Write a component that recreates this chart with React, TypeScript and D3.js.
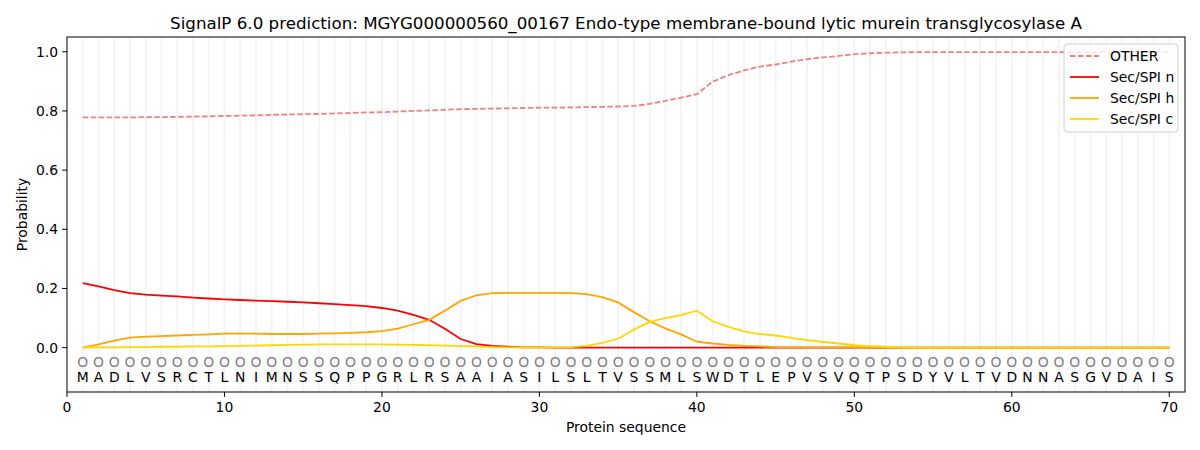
import React, { useEffect, useRef } from 'react';
import * as d3 from 'd3';

const title = 'SignalP 6.0 prediction: MGYG000000560_00167 Endo-type membrane-bound lytic murein transglycosylase A';

const sequence = 'MADLVSRCTLNIMNSSQPPGRLRSAAIASILSLTVSSMLSWDTLEPVSVQTPSDYVLTVDNNASGVDAIS'.split('');

const otherProb = [
  0.778, 0.778, 0.778, 0.778, 0.779, 0.779, 0.780, 0.781, 0.782, 0.783,
  0.784, 0.785, 0.787, 0.788, 0.789, 0.790, 0.792, 0.793, 0.795, 0.796,
  0.798, 0.800, 0.802, 0.804, 0.806, 0.807, 0.808, 0.809, 0.810, 0.811,
  0.811, 0.812, 0.813, 0.814, 0.815, 0.817, 0.824, 0.834, 0.845, 0.857,
  0.899, 0.921, 0.937, 0.950, 0.957, 0.967, 0.975, 0.981, 0.986, 0.992,
  0.995, 0.997, 0.998, 0.999, 0.999, 0.999, 0.999, 0.999, 0.999, 0.999,
  0.999, 0.999, 0.999, 0.999, 0.999, 0.999, 0.999, 0.999, 0.999, 0.999,
];

const secN = [
  0.218, 0.207, 0.194, 0.184, 0.179, 0.176, 0.173, 0.169, 0.166, 0.163,
  0.161, 0.159, 0.157, 0.155, 0.153, 0.150, 0.147, 0.144, 0.140, 0.134,
  0.125, 0.111, 0.094, 0.064, 0.029, 0.012, 0.006, 0.003, 0.001, 0.001,
  0, 0, 0, 0, 0, 0, 0, 0, 0, 0,
  0, 0, 0, 0, 0, 0, 0, 0, 0, 0,
  0, 0, 0, 0, 0, 0, 0, 0, 0, 0,
  0, 0, 0, 0, 0, 0, 0, 0, 0, 0,
];

const secH = [
  0.000, 0.011, 0.024, 0.034, 0.037, 0.039, 0.041, 0.043, 0.045, 0.047,
  0.047, 0.047, 0.046, 0.046, 0.046, 0.047, 0.048, 0.050, 0.052, 0.056,
  0.064, 0.079, 0.094, 0.125, 0.158, 0.177, 0.184, 0.185, 0.185, 0.185,
  0.185, 0.184, 0.181, 0.171, 0.153, 0.120, 0.089, 0.065, 0.045, 0.020,
  0.014, 0.009, 0.006, 0.004, 0.002, 0.001, 0.001, 0.001, 0.001, 0.001,
  0, 0, 0, 0, 0, 0, 0, 0, 0, 0,
  0, 0, 0, 0, 0, 0, 0, 0, 0, 0,
];

const secC = [
  0.000, 0.001, 0.001, 0.002, 0.002, 0.003, 0.003, 0.004, 0.004, 0.005,
  0.006, 0.007, 0.008, 0.009, 0.010, 0.011, 0.011, 0.011, 0.011, 0.011,
  0.010, 0.009, 0.008, 0.007, 0.005, 0.004, 0.002, 0.001, 0.001, 0.001,
  0.001, 0.002, 0.006, 0.016, 0.030, 0.061, 0.087, 0.100, 0.110, 0.125,
  0.089, 0.070, 0.055, 0.046, 0.041, 0.033, 0.025, 0.019, 0.014, 0.008,
  0.005, 0.003, 0.001, 0, 0, 0, 0, 0, 0, 0,
  0, 0, 0, 0, 0, 0, 0, 0, 0, 0,
];

const xTicks = [0, 10, 20, 30, 40, 50, 60, 70];
const yTicks = [0, 0.2, 0.4, 0.6, 0.8, 1.0];

const series = [
  { name: 'OTHER', values: otherProb, color: '#f08080', dash: '5.55,2.4' },
  { name: 'Sec/SPI n', values: secN, color: '#ff0000', dash: null },
  { name: 'Sec/SPI h', values: secH, color: '#ffa500', dash: null },
  { name: 'Sec/SPI c', values: secC, color: '#ffd700', dash: null },
];

const FONT = '"DejaVu Sans", sans-serif';

const SignalPChart: React.FC = () => {
  const svgRef = useRef<SVGSVGElement>(null);

  useEffect(() => {
    if (!svgRef.current) return;
    const svg = d3.select(svgRef.current);
    svg.selectAll('*').remove();

    const left = 67, right = 1185, top = 37, bottom = 392;

    const x = d3.scaleLinear().domain([0, 71]).range([left, right]);
    const y = d3.scaleLinear().domain([-0.15, 1.05]).range([bottom, top]);

    svg.style('font-family', FONT);

    // title
    svg.append('text')
      .attr('x', (left + right) / 2)
      .attr('y', 29)
      .attr('text-anchor', 'middle')
      .style('font-size', '16.7px')
      .text(title);

    // residue grid lines
    const positions = sequence.map((_, i) => i + 1);
    svg.append('g')
      .selectAll('line')
      .data(positions)
      .join('line')
      .attr('x1', d => x(d))
      .attr('x2', d => x(d))
      .attr('y1', top)
      .attr('y2', bottom)
      .attr('stroke', '#f4f4f4')
      .attr('stroke-width', 2);

    // lines
    const line = d3.line<number>()
      .x((_, i) => x(i + 1))
      .y(d => y(d));

    series.forEach(s => {
      svg.append('path')
        .datum(s.values)
        .attr('fill', 'none')
        .attr('stroke', s.color)
        .attr('stroke-width', 1.8)
        .attr('stroke-dasharray', s.dash)
        .attr('d', line);
    });

    // residue markers and letters
    const res = svg.append('g').style('font-size', '13.9px');
    res.selectAll('text.o')
      .data(positions)
      .join('text')
      .attr('class', 'o')
      .attr('x', d => x(d))
      .attr('y', y(-0.05))
      .attr('dy', '0.36em')
      .attr('text-anchor', 'middle')
      .attr('fill', '#808080')
      .text('O');
    res.selectAll('text.aa')
      .data(sequence)
      .join('text')
      .attr('class', 'aa')
      .attr('x', (_, i) => x(i + 1))
      .attr('y', y(-0.1))
      .attr('dy', '0.36em')
      .attr('text-anchor', 'middle')
      .text(d => d);

    // axes frame
    svg.append('rect')
      .attr('x', left)
      .attr('y', top)
      .attr('width', right - left)
      .attr('height', bottom - top)
      .attr('fill', 'none')
      .attr('stroke', '#000')
      .attr('stroke-width', 1);

    const xAxis = svg.append('g').style('font-size', '13.9px');
    xTicks.forEach(t => {
      xAxis.append('line')
        .attr('x1', x(t)).attr('x2', x(t))
        .attr('y1', bottom).attr('y2', bottom + 4.9)
        .attr('stroke', '#000');
      xAxis.append('text')
        .attr('x', x(t))
        .attr('y', bottom + 20)
        .attr('text-anchor', 'middle')
        .text(t);
    });

    const yAxis = svg.append('g').style('font-size', '13.9px');
    yTicks.forEach(t => {
      yAxis.append('line')
        .attr('x1', left - 4.9).attr('x2', left)
        .attr('y1', y(t)).attr('y2', y(t))
        .attr('stroke', '#000');
      yAxis.append('text')
        .attr('x', left - 9)
        .attr('y', y(t))
        .attr('dy', '0.36em')
        .attr('text-anchor', 'end')
        .text(d3.format('.1f')(t));
    });

    svg.append('text')
      .attr('x', (left + right) / 2)
      .attr('y', 432)
      .attr('text-anchor', 'middle')
      .style('font-size', '13.9px')
      .text('Protein sequence');

    svg.append('text')
      .attr('transform', `translate(27,${(top + bottom) / 2}) rotate(-90)`)
      .attr('text-anchor', 'middle')
      .style('font-size', '13.9px')
      .text('Probability');

    // legend
    const lg = svg.append('g');
    lg.append('rect')
      .attr('x', 1064).attr('y', 44)
      .attr('width', 114).attr('height', 88)
      .attr('rx', 3)
      .attr('fill', 'rgba(255,255,255,0.8)')
      .attr('stroke', '#d0d0d0');
    series.forEach((s, i) => {
      const ly = 56 + i * 21;
      lg.append('line')
        .attr('x1', 1070).attr('x2', 1099)
        .attr('y1', ly).attr('y2', ly)
        .attr('stroke', s.color)
        .attr('stroke-width', 1.8)
        .attr('stroke-dasharray', s.dash);
      lg.append('text')
        .attr('x', 1110)
        .attr('y', ly)
        .attr('dy', '0.36em')
        .style('font-size', '13.9px')
        .text(s.name);
    });
  }, []);

  return <svg ref={svgRef} width={1200} height={450} style={{ display: 'block' }} />;
};

export default function App() {
  return (
    <div style={{ position: 'absolute', left: 0, top: 0, background: '#fff' }}>
      <SignalPChart />
    </div>
  );
}
